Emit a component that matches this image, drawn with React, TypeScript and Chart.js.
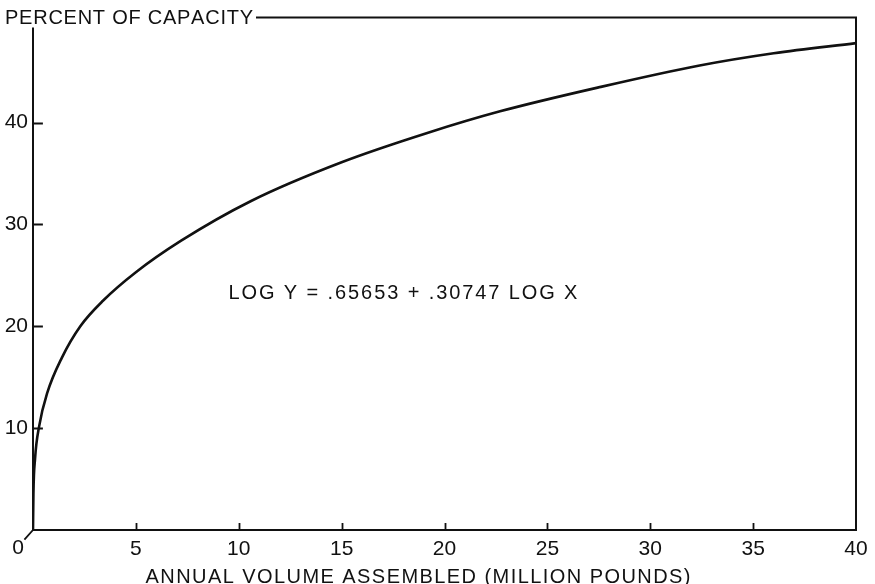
import React, { useEffect, useRef } from 'react';
import { Chart, registerables } from 'chart.js';

Chart.register(...registerables);

// ---- data ----
const volumeMillionLbs = [0, 0.02, 0.1, 0.3, 0.7, 1.4, 2.3, 3.4, 5, 7.2, 10.6, 15, 19.2, 22.7, 27.6, 32.4, 36, 40];
const percentCapacity = [0, 3.5, 7, 10.2, 13.5, 16.9, 20, 22.5, 25.3, 28.4, 32.3, 36.1, 39, 41.1, 43.5, 45.6, 46.8, 47.8];

const xTickValues = [0, 5, 10, 15, 20, 25, 30, 35, 40];
const xTickLabels = ['', '5', '10', '15', '20', '25', '30', '35', '40'];
const yTickValues = [0, 10, 20, 30, 40];
const yTickLabels = ['', '10', '20', '30', '40'];

const yAxisTitle = 'PERCENT OF CAPACITY';
const xAxisTitle = 'ANNUAL VOLUME ASSEMBLED (MILLION POUNDS)';
const originLabel = '0';
const equationText = 'LOG Y = .65653 + .30747 LOG X';
const equationX = [9.5];
const equationY = [23.2];

const X_MIN = 0;
const X_MAX = 40;
const Y_MIN = 0;
const Y_MAX = 50.3;

const INK = '#111111';
const FONT_FAMILY = '"Liberation Sans", Arial, sans-serif';
const TICK_FONT_SIZE = 21;
const TEXT_FONT_SIZE = 20;

function drawSpaced(ctx: CanvasRenderingContext2D, text: string, x: number, y: number, targetWidth: number, align: 'left' | 'center') {
  const chars = Array.from(text);
  const widths = chars.map((c) => ctx.measureText(c).width);
  const natural = widths.reduce((a, b) => a + b, 0);
  const extra = chars.length > 1 ? (targetWidth - natural) / (chars.length - 1) : 0;
  let cx = align === 'center' ? x - targetWidth / 2 : x;
  ctx.textAlign = 'left';
  chars.forEach((c, i) => {
    ctx.fillText(c, cx, y);
    cx += widths[i] + extra;
  });
  return cx - extra;
}

const framePlugin = {
  id: 'framePlugin',
  afterDraw(chart: any) {
    const { ctx, chartArea, scales } = chart;
    const { left, right, top, bottom } = chartArea;
    const xs = scales.x;
    const ys = scales.y;
    ctx.save();
    ctx.strokeStyle = INK;
    ctx.fillStyle = INK;
    ctx.lineWidth = 2;
    ctx.lineCap = 'square';

    // title on the top-left, joined to the frame's top line
    ctx.font = `${TEXT_FONT_SIZE}px ${FONT_FAMILY}`;
    ctx.textBaseline = 'middle';
    const titleEnd = drawSpaced(ctx, yAxisTitle, 5, top + 1, 248, 'left');

    ctx.beginPath();
    ctx.moveTo(left, top + 11);
    ctx.lineTo(left, bottom);
    ctx.lineTo(right, bottom);
    ctx.lineTo(right, top);
    ctx.lineTo(titleEnd + 4, top);
    ctx.stroke();

    // y ticks (inward)
    ctx.lineWidth = 1.8;
    ctx.beginPath();
    yTickValues.forEach((v) => {
      if (v === Y_MIN) return;
      const py = Math.round(ys.getPixelForValue(v)) + 0.5;
      ctx.moveTo(left, py);
      ctx.lineTo(left + 9, py);
    });
    // x ticks (inward, short)
    xTickValues.forEach((v) => {
      if (v === X_MIN || v === X_MAX) return;
      const px = Math.round(xs.getPixelForValue(v)) + 0.5;
      ctx.moveTo(px, bottom);
      ctx.lineTo(px, bottom - 6);
    });
    // origin leader
    ctx.moveTo(left, bottom);
    ctx.lineTo(left - 8, bottom + 9);
    ctx.stroke();

    // origin label
    ctx.font = `${TICK_FONT_SIZE}px ${FONT_FAMILY}`;
    ctx.textAlign = 'center';
    ctx.textBaseline = 'middle';
    ctx.fillText(originLabel, left - 15, bottom + 18);

    // x axis title
    ctx.font = `${TEXT_FONT_SIZE}px ${FONT_FAMILY}`;
    drawSpaced(ctx, xAxisTitle, 418, 577, 545, 'center');

    // equation
    const ex = xs.getPixelForValue(equationX[0]);
    const ey = ys.getPixelForValue(equationY[0]);
    drawSpaced(ctx, equationText, ex, ey, 349, 'left');

    ctx.restore();
  },
};

export default function App() {
  const canvasRef = useRef<HTMLCanvasElement | null>(null);

  useEffect(() => {
    if (!canvasRef.current) return;
    const chart = new Chart(canvasRef.current, {
      type: 'scatter',
      data: {
        datasets: [
          {
            data: volumeMillionLbs.map((x, i) => ({ x, y: percentCapacity[i] })),
            showLine: true,
            borderColor: INK,
            borderWidth: 2.6,
            pointRadius: 0,
            cubicInterpolationMode: 'monotone',
            fill: false,
          } as any,
        ],
      },
      options: {
        responsive: false,
        animation: false,
        layout: { padding: { top: 17, right: 19, left: 0, bottom: 0 } },
        plugins: {
          legend: { display: false },
          tooltip: { enabled: false },
          title: { display: false },
        },
        scales: {
          x: {
            type: 'linear',
            min: X_MIN,
            max: X_MAX,
            afterBuildTicks: (scale: any) => {
              scale.ticks = xTickValues.map((value) => ({ value }));
            },
            afterFit: (scale: any) => {
              scale.height = 54;
            },
            ticks: {
              autoSkip: false,
              maxRotation: 0,
              padding: 7,
              color: INK,
              font: { family: FONT_FAMILY, size: TICK_FONT_SIZE },
              callback: (_v: any, i: number) => xTickLabels[i],
            },
            grid: { display: false, drawTicks: false },
            border: { display: false },
          },
          y: {
            type: 'linear',
            min: Y_MIN,
            max: Y_MAX,
            afterBuildTicks: (scale: any) => {
              scale.ticks = yTickValues.map((value) => ({ value }));
            },
            afterFit: (scale: any) => {
              scale.width = 33;
            },
            ticks: {
              autoSkip: false,
              padding: 5,
              color: INK,
              font: { family: FONT_FAMILY, size: TICK_FONT_SIZE },
              callback: (_v: any, i: number) => yTickLabels[i],
            },
            grid: { display: false, drawTicks: false },
            border: { display: false },
          },
        },
      },
      plugins: [framePlugin],
    } as any);
    return () => chart.destroy();
  }, []);

  return (
    <div style={{ position: 'fixed', left: 0, top: 0, width: 875, height: 584, background: '#fff' }}>
      <canvas ref={canvasRef} width={875} height={584} style={{ display: 'block' }} />
    </div>
  );
}
